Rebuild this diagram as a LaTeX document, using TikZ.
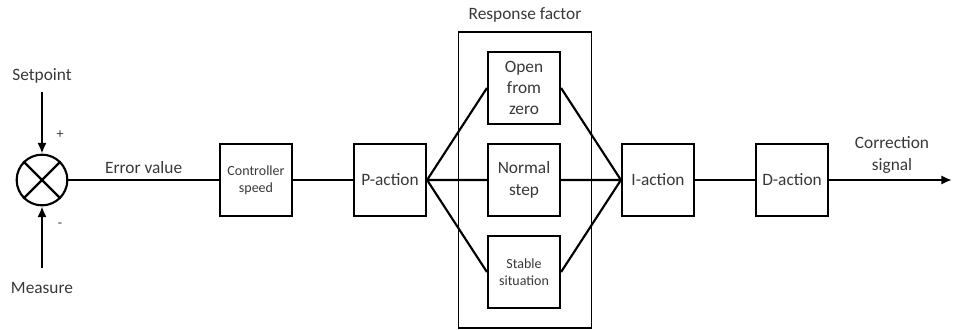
\documentclass[tikz,border=0pt]{standalone}
\usepackage{fontspec}
\setmainfont{Carlito}
\usetikzlibrary{arrows.meta}
\tikzset{
	blk/.style={draw, minimum size=54pt, inner sep=1pt, align=center},
	lbl/.style={font=\fontsize{13}{16}\selectfont, text=black!78, align=center},
	small/.style={font=\fontsize{10.5}{13}\selectfont, text=black!78, align=center},
	arr/.style={-{Latex[length=8pt,width=7pt]}}
}
\begin{document}
\begin{tikzpicture}[x=0.75pt, y=-0.75pt, line width=1.6pt]
	\useasboundingbox (0,0) rectangle (953,329);
	% summing point
	\node (sum) at (42,180) [circle, draw, minimum size=38pt, inner sep=0pt] {};
	\draw (sum.45) -- (sum.225) (sum.135) -- (sum.-45);
	\node (sp) at (42,76) [lbl] {Setpoint};
	\node (ms) at (42,288) [lbl] {Measure};
	\coordinate (spin) at (42,92);
	\coordinate (msin) at (42,268);
	\draw[arr] (spin) -- (sum.north);
	\draw[arr] (msin) -- (sum.south);
	\node (plus) at (60,135) [small] {+};
	\node (minus) at (60,225) [small] {-};
	% chain
	\node (speed) at (256,180) [blk, small] {Controller\\speed};
		\draw (sum) -- node [lbl, above=1pt] {Error value} (speed);
	\node (p) at (390,180) [blk, lbl] {P-action}		edge[-](speed);
	% response factor
	\node (rf) at (525,180) [draw, line width=0.8pt, minimum width=100pt, minimum height=222pt] {};
	\node (rft) at (525,15) [lbl] {Response factor};
		\node (open) at (524,88) [blk, lbl] {Open\\from\\zero};
		\node (norm) at (524,180) [blk, lbl] {Normal\\step};
		\node (stab) at (524,272) [blk, small] {Stable\\situation};
	\node (i) at (658,180) [blk, lbl] {I-action};
	\draw (p.east) -- (open.west)
		  (p.east) -- (norm.west)
		  (p.east) -- (stab.west)
		  (open.east) -- (i.west)
		  (norm.east) -- (i.west)
		  (stab.east) -- (i.west);
	\node (d) at (792,180) [blk, lbl] {D-action}		edge[-](i);
	\coordinate (out) at (952,180);
	\node (corr) at (892,155) [lbl] {Correction\\signal};
	\draw[arr] (d) -- (out);
\end{tikzpicture}
\end{document}
